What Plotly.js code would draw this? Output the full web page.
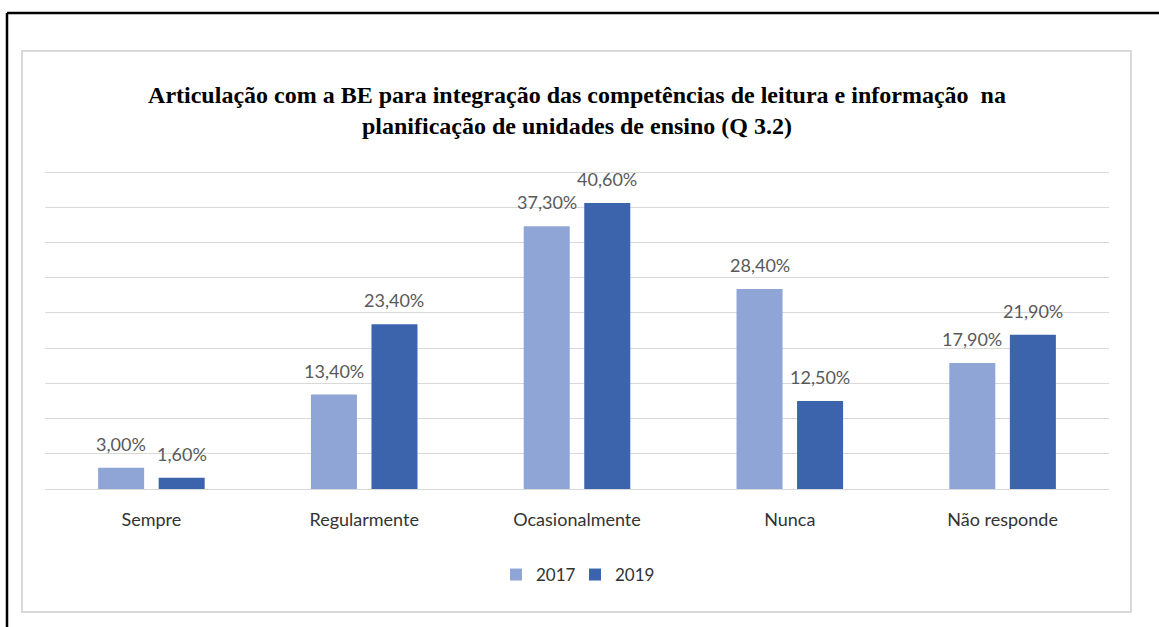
<!DOCTYPE html>
<html>
<head>
<meta charset="utf-8">
<script src="https://cdn.plot.ly/plotly-3.0.1.min.js"></script>
<style>
  html, body { margin: 0; padding: 0; background: #ffffff; }
  #chart { width: 1159px; height: 627px; }
</style>
</head>
<body>
<div id="chart"></div>
<script>
// ---- Data ----
const categories = ["Sempre", "Regularmente", "Ocasionalmente", "Nunca", "Não responde"];
const seriesNames = ["2017", "2019"];
const values2017 = [3.0, 13.4, 37.3, 28.4, 17.9];
const values2019 = [1.6, 23.4, 40.6, 12.5, 21.9];
const titleLines = [
  "Articulação com a BE para integração das competências de leitura e informação  na",
  "planificação de unidades de ensino (Q 3.2)"
];

// ---- Styles ----
const colors = ["#8FA5D5", "#3B64AD"];
const labelFont = "Lato, 'Open Sans', sans-serif";

// plot area in pixels
const W = 1159, H = 627;
const yMax = 45.15;
const L = 45, R = 1109, B = 489;
const T = B - yMax * (317 / 45);
const px = x => (x - L) / (R - L);
const py = y => (B - y) / (B - T);

const traces = [values2017, values2019].map((vals, i) => ({
  type: "bar",
  name: seriesNames[i],
  x: categories,
  y: vals,
  marker: { color: colors[i] },
  hoverinfo: "skip"
}));

const annotations = [];
[values2017, values2019].forEach((vals, i) => {
  vals.forEach((v, j) => {
    annotations.push({
      x: categories[j], y: v, xref: "x", yref: "y",
      text: v.toFixed(2).replace(".", ",") + "%",
      showarrow: false,
      xanchor: "center", yanchor: "middle",
      xshift: i === 0 ? -30.25 : 30.25,
      yshift: 24,
      font: { family: labelFont, size: 18, color: "#595959" }
    });
  });
});

const shapes = [
  // inner light-gray chart frame
  { type: "rect", xref: "paper", yref: "paper",
    x0: px(22), x1: px(1131), y0: py(612), y1: py(51),
    line: { color: "#D9D9D9", width: 2 }, fillcolor: "rgba(0,0,0,0)", layer: "below" },
  // outer black frame (top and left edges)
  { type: "line", xref: "paper", yref: "paper",
    x0: px(7), x1: px(1162), y0: py(13), y1: py(13),
    line: { color: "#000000", width: 2.5 } },
  { type: "line", xref: "paper", yref: "paper",
    x0: px(7), x1: px(7), y0: py(13), y1: py(630),
    line: { color: "#000000", width: 2.5 } }
];

const layout = {
  width: W, height: H,
  margin: { l: L, r: W - R, t: T, b: H - B, pad: 0 },
  paper_bgcolor: "#ffffff",
  plot_bgcolor: "#ffffff",
  title: {
    text: "<b>" + titleLines.join("<br>") + "</b>",
    font: { family: "'Liberation Serif', 'Times New Roman', serif", size: 24, color: "#000000" },
    xref: "container", yref: "container",
    x: 577 / W, xanchor: "center",
    y: 1 - 103 / H, yanchor: "middle"
  },
  barmode: "group",
  bargap: 0.431,
  bargroupgap: 0.24,
  xaxis: {
    type: "category",
    showgrid: false, zeroline: false, showline: false,
    ticks: "", ticklabelstandoff: 18,
    tickfont: { family: labelFont, size: 18, color: "#333333" }
  },
  yaxis: {
    range: [0, yMax], dtick: 5, tick0: 0,
    showticklabels: false, ticks: "",
    showgrid: true, gridcolor: "#D9D9D9", gridwidth: 1,
    zeroline: true, zerolinecolor: "#D9D9D9", zerolinewidth: 1,
    showline: false, fixedrange: true
  },
  legend: {
    orientation: "h",
    x: px(575), xanchor: "center",
    y: py(575), yanchor: "middle",
    font: { family: labelFont, size: 17, color: "#333333" },
    itemwidth: 30,
    entrywidth: 34, entrywidthmode: "pixels"
  },
  showlegend: true,
  annotations: annotations,
  shapes: shapes
};

Plotly.newPlot("chart", traces, layout, { staticPlot: true, displayModeBar: false });
</script>
</body>
</html>
